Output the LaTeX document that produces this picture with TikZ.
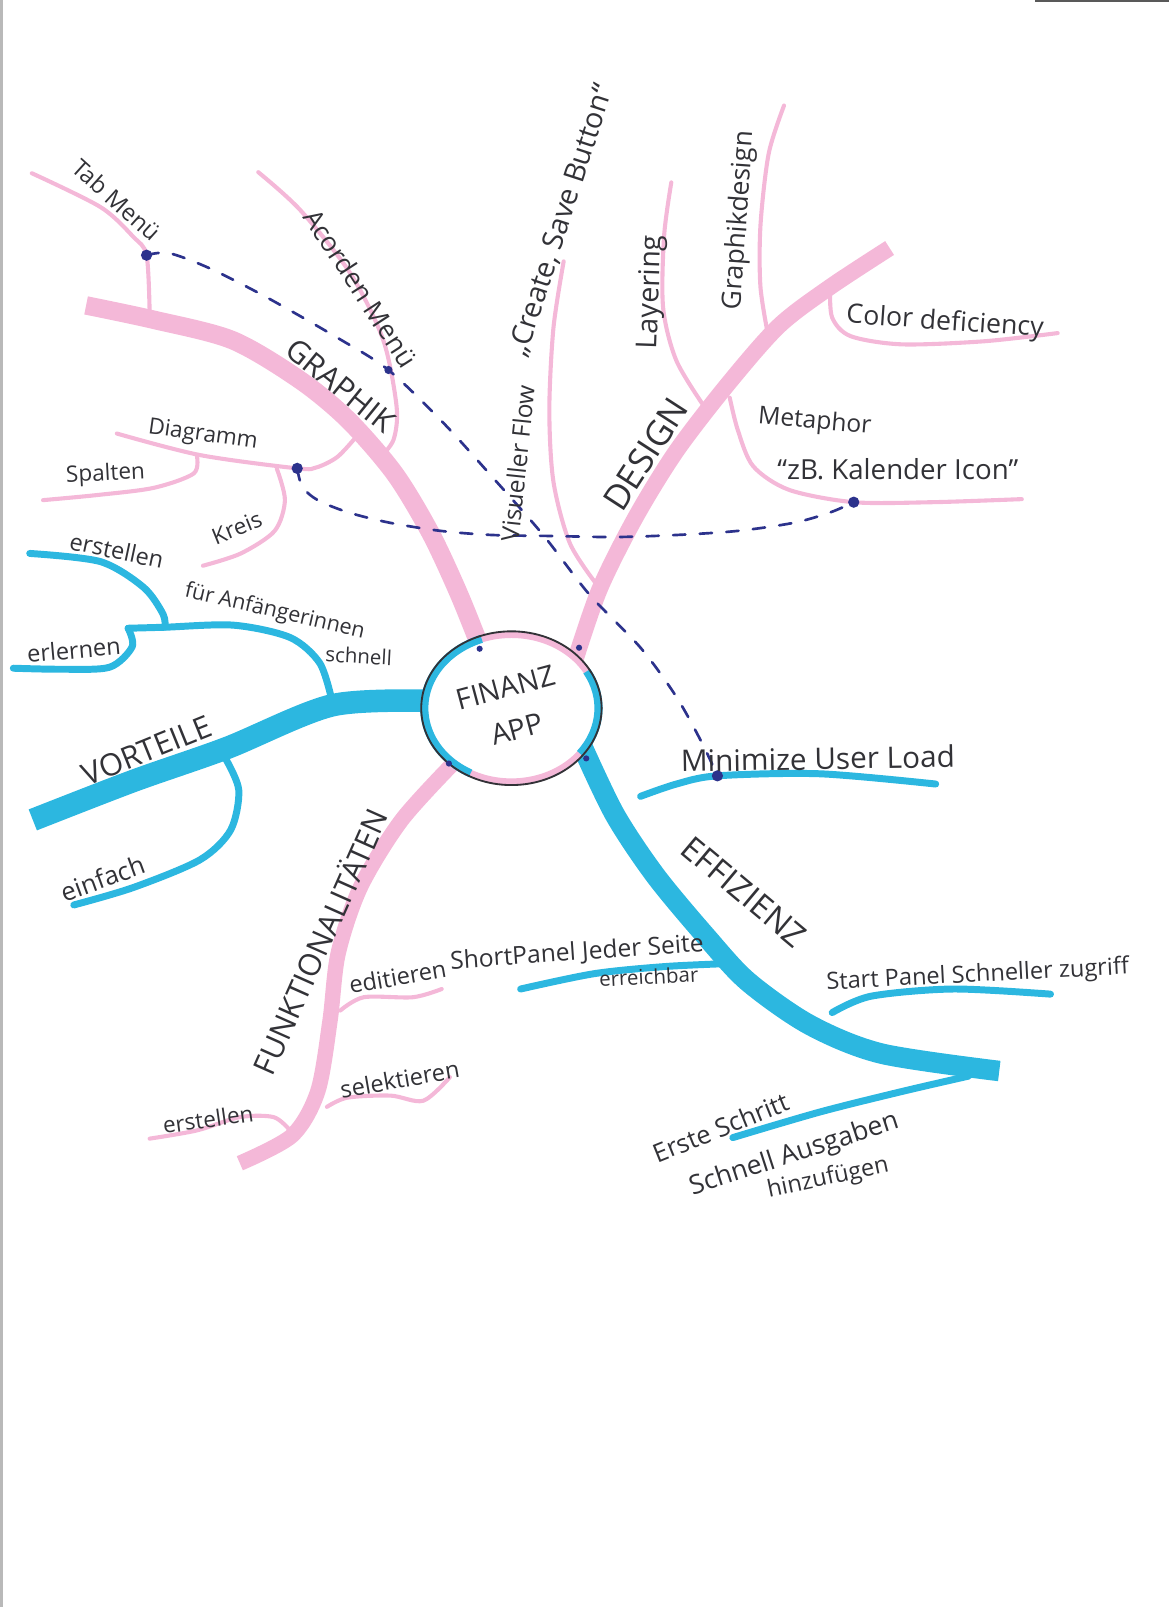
\documentclass[tikz,border=0pt]{standalone}
\usepackage{fontspec}
\setmainfont{Open Sans}
\definecolor{mpink}{RGB}{244,184,216}
\definecolor{mcyan}{RGB}{44,183,224}
\definecolor{ink}{RGB}{50,50,55}
\definecolor{pen}{RGB}{44,50,140}

\begin{document}
\begin{tikzpicture}[x=0.5pt, y=-0.5pt,
    bough/.style={line width=#1, line cap=butt, line join=round},
    twig/.style={mpink, line width=2pt, line cap=round, line join=round},
    bluetwig/.style={mcyan, line width=3.4pt, line cap=round, line join=round},
    penline/.style={pen, line width=1.3pt, dash pattern=on 6pt off 7pt, line cap=round},
    pendot/.style={circle, fill=pen, inner sep=0pt, minimum size=#1},
    pendot/.default=5.5pt,
    hand/.style={text=ink, inner sep=0pt, font=\fontsize{#1}{#1}\selectfont},
    hand/.default=12]

    \useasboundingbox (0,0) rectangle (1141,1568);
    \draw[gray!55, line width=1.2pt] (1.5,0) -- (1.5,1568);
    \draw[black!65, line width=1pt] (1010,0.8) -- (1141,0.8);

    \coordinate (c) at (499,691);
    \coordinate (tabdot) at (143,249);
    \coordinate (accdot) at (379,361);
    \coordinate (diadot) at (290,457);
    \coordinate (metdot) at (833,490);
    \coordinate (mindot) at (700,757);

    % pink side
    \draw[mpink, bough=9pt] plot[smooth] coordinates {(472,640) (448,580) (420,520) (385,462) (340,410) (293,371) (227,332) (150,312) (84,298)};
    \draw[twig] plot[smooth] coordinates {(31,169) (98,202) (130,231) (tabdot) (146,305)};
    \draw[twig] plot[smooth] coordinates {(252,168) (293,205) (342,267) (374,332) (387,397) (384,429) (371,446)};
    \draw[twig] plot[smooth] coordinates {(114,423) (195,444) (diadot) (309,456) (329,446) (346,428)};
    \draw[twig] plot[smooth] coordinates {(192,444) (189,462) (150,476) (95,483) (42,488)};
    \draw[twig] plot[smooth] coordinates {(270,457) (278,488) (268,518) (235,540) (198,552)};

    \draw[mpink, bough=8pt] plot[smooth] coordinates {(560,648) (585,575) (620,505) (660,440) (710,375) (760,318) (810,280) (868,242)};
    \draw[twig] plot[smooth] coordinates {(550,255) (540,320) (536,400) (540,470) (556,530) (582,570)};
    \draw[twig] plot[smooth] coordinates {(655,178) (648,230) (647,300) (660,352) (688,398)};
    \draw[twig] plot[smooth] coordinates {(765,103) (750,150) (742,220) (742,280) (750,330)};
    \draw[twig] plot[smooth] coordinates {(810,282) (812,310) (830,328) (880,336) (960,333) (1032,325)};
    \draw[twig] plot[smooth] coordinates {(712,388) (720,420) (735,455) (770,478) (metdot) (910,490) (997,487)};

    \draw[mpink, bough=7.5pt] plot[smooth] coordinates {(445,742) (392,800) (352,865) (330,930) (322,996) (310,1065) (285,1108) (234,1135)};
    \draw[twig] plot[smooth] coordinates {(332,986) (355,973) (403,973) (431,965)};
    \draw[twig] plot[smooth] coordinates {(319,1080) (339,1071) (381,1069) (413,1074) (439,1051)};
    \draw[twig] plot[smooth] coordinates {(283,1103) (267,1090) (234,1090) (192,1103) (146,1111)};

    % blue side
    \draw[mcyan, bough=11pt] plot[smooth] coordinates {(425,684) (325,688) (221,730) (130,762) (32,800)};
    \draw[bluetwig] plot[smooth] coordinates {(324,684) (312,647) (283,622) (228,610) (161,612) (125,613)};
    \draw[bluetwig] plot[smooth] coordinates {(29,540) (98,548) (140,573) (159,599) (161,612)};
    \draw[bluetwig] plot[smooth] coordinates {(125,613) (129,631) (107,651) (60,653) (13,652)};
    \draw[bluetwig] plot[smooth] coordinates {(220,740) (233,771) (225,810) (195,839) (130,866) (72,883)};

    \draw[mcyan, bough=10pt] plot[smooth] coordinates {(568,728) (600,795) (640,855) (690,915) (730,958) (790,1000) (860,1028) (975,1045)};
    \draw[bluetwig] plot[smooth] coordinates {(715,940) (650,943) (580,950) (508,965)};
    \draw[bluetwig] plot[smooth] coordinates {(812,988) (850,972) (930,965) (1025,970)};
    \draw[bluetwig] plot[smooth] coordinates {(945,1050) (880,1065) (800,1085) (715,1110)};
    \draw[bluetwig] plot[smooth] coordinates {(625,777) (660,765) (mindot) (800,755) (913,765)};

    % centre
    \fill[white] (c) ellipse [x radius=84, y radius=70];
    \draw[mpink, line width=3.5pt] (c) ellipse [x radius=85, y radius=72];
    \draw[mcyan, line width=4pt] ([shift={(118:85 and 72)}]c) arc [start angle=118, end angle=250, x radius=85, y radius=72];
    \draw[mcyan, line width=4pt] ([shift={(-30:85 and 72)}]c) arc [start angle=-30, end angle=38, x radius=85, y radius=72];
    \draw[ink, line width=0.9pt] (c) ellipse [x radius=88, y radius=75];
    \node[hand=14, align=center, rotate=15, font=\fontsize{14}{21}\selectfont] (app) at (c) {FINANZ\\APP};

    \draw[penline] plot[smooth] coordinates {(tabdot) (165,247) (205,262) (260,290) (330,330) (accdot) (432,412) (480,465) (530,522) (575,580) (625,632) (660,680) (685,725) (mindot)};
    \draw[penline] plot[smooth] coordinates {(diadot) (295,475) (310,488) (340,500) (380,510) (430,518) (480,522) (540,523) (600,524) (660,522) (720,518) (775,510) (810,500) (metdot)};
    \node[pendot] (p1) at (tabdot) {};
    \node[pendot=4pt] (p2) at (accdot) {};
    \node[pendot] (p3) at (diadot) {};
    \node[pendot] (p4) at (metdot) {};
    \node[pendot] (p5) at (mindot) {};
    \node[pendot=3pt] (q1) at (468,633) {};
    \node[pendot=3pt] (q2) at (565,632) {};
    \node[pendot=3pt] (q3) at (438,745) {};
    \node[pendot=3pt] (q4) at (572,740) {};

    % labels
    \node[hand=11.5, rotate=-42] (tab) at (114,195) {Tab Menü};
    \node[hand=13, rotate=-57] (acorden) at (352,281) {Acorden Menü};
    \node[hand=15, rotate=-39] (graphik) at (332,376) {GRAPHIK};
    \node[hand=11, rotate=-8] (diagramm) at (198,425) {Diagramm};
    \node[hand=11, rotate=3] (spalten) at (103,463) {Spalten};
    \node[hand=11, rotate=22] (kreis) at (231,515) {Kreis};
    \node[hand=11.5, rotate=-12] (erstellena) at (114,537) {erstellen};
    \node[hand=10.5, rotate=-13] (anfaenger) at (268,597) {für Anfängerinnen};
    \node[hand=10, rotate=-3] (schnell) at (350,640) {schnell};
    \node[hand=11.5, rotate=5] (erlernen) at (72,634) {erlernen};
    \node[hand=15, rotate=22] (vorteile) at (143,732) {VORTEILE};
    \node[hand=12.5, rotate=20] (einfach) at (100,857) {einfach};
    \node[hand=15, rotate=66] (funktion) at (311,918) {FUNKTIONALITÄTEN};
    \node[hand=11.5, rotate=10] (editieren) at (388,953) {editieren};
    \node[hand=11.5, rotate=10] (selektieren) at (390,1053) {selektieren};
    \node[hand=11, rotate=8] (erstellenb) at (203,1092) {erstellen};
    \node[hand=12, rotate=4] (shortpanel) at (563,930) {ShortPanel Jeder Seite};
    \node[hand=10, rotate=3] (erreichbar) at (633,953) {erreichbar};
    \node[hand=11.5, rotate=3] (startpanel) at (954,952) {Start Panel Schneller zugriff};
    \node[hand=12.5, rotate=22] (erste) at (703,1100) {Erste Schritt};
    \node[hand=13, rotate=18] (ausgaben) at (775,1127) {Schnell Ausgaben};
    \node[hand=11.5, rotate=12] (hinzu) at (808,1150) {hinzufügen};
    \node[hand=14.5, rotate=1] (minimize) at (798,740) {Minimize User Load};
    \node[hand=16, rotate=-40] (effizienz) at (726,870) {EFFIZIENZ};
    \node[hand=12, rotate=-5] (metaphor) at (795,412) {Metaphor};
    \node[hand=13.5] (kalender) at (876,458) {“zB. Kalender Icon”};
    \node[hand=13, rotate=-4] (color) at (922,315) {Color deficiency};
    \node[hand=17, rotate=57] (design) at (630,443) {DESIGN};
    \node[hand=14, rotate=88] (layering) at (636,285) {Layering};
    \node[hand=13, rotate=86] (graphikdesign) at (722,215) {Graphikdesign};
    \node[hand=12, rotate=84] (visueller) at (505,452) {Visueller Flow};
    \node[hand=14, rotate=72] (create) at (548,215) {„Create, Save Button“};
\end{tikzpicture}
\end{document}
